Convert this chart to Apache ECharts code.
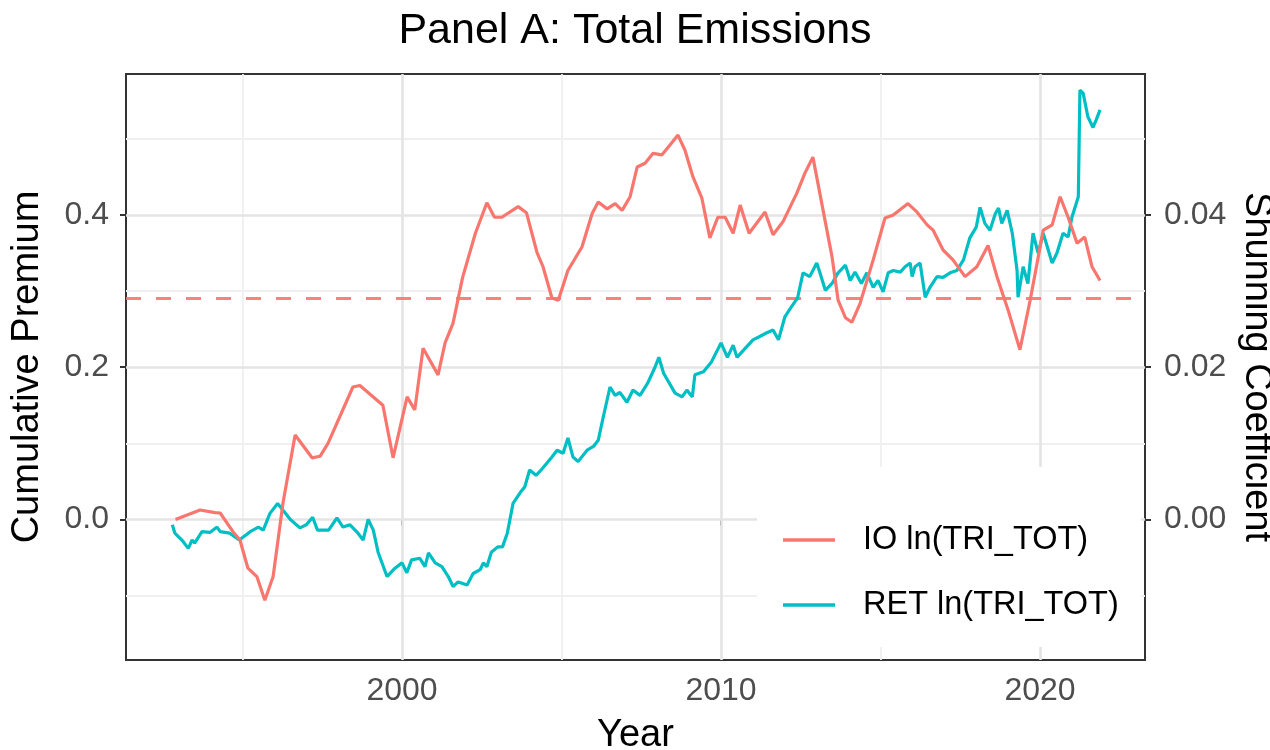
<!DOCTYPE html>
<html>
<head>
<meta charset="utf-8">
<script src="https://cdn.jsdelivr.net/npm/echarts@6/dist/echarts.min.js"></script>
<style>
  html, body { margin: 0; padding: 0; background: #ffffff; }
  #chart { width: 1270px; height: 750px; }
</style>
</head>
<body>
<div id="chart"></div>
<script>
// IO shunning coefficient (right axis), by year
const ioYear = [1992.9, 1993.67, 1994.14, 1994.3, 1994.7, 1994.92, 1995.17, 1995.45, 1995.7, 1995.96,
  1996.27, 1996.65, 1997.18, 1997.43, 1997.68, 1998.46, 1998.68, 1999.4, 1999.72, 2000.16,
  2000.4, 2000.66, 2001.13, 2001.35, 2001.6, 2001.9, 2002.3, 2002.66, 2002.9, 2003.13,
  2003.64, 2003.9, 2004.23, 2004.42, 2004.7, 2004.9, 2005.2, 2005.64, 2005.96, 2006.15,
  2006.43, 2006.68, 2006.9, 2007.15, 2007.37, 2007.62, 2007.87, 2008.15, 2008.4, 2008.65,
  2008.87, 2009.12, 2009.4, 2009.65, 2009.9, 2010.13, 2010.38, 2010.6, 2010.88, 2011.38,
  2011.63, 2011.94, 2012.38, 2012.63, 2012.88, 2013.2, 2013.48, 2013.67, 2013.9, 2014.1,
  2014.36, 2014.77, 2015.14, 2015.4, 2015.86, 2016.14, 2016.46, 2016.65, 2016.96, 2017.27,
  2017.65, 2018.02, 2018.37, 2018.65, 2019.0, 2019.37, 2019.69, 2020.1, 2020.38, 2020.63,
  2020.88, 2021.16, 2021.4, 2021.63, 2021.88];
const ioCoef = [0.0000, 0.00125, 0.0009, 0.00085, -0.0016, -0.0027, -0.0064, -0.0075, -0.0106, -0.0075,
  0.0022, 0.0111, 0.0081, 0.0083, 0.0100, 0.0174, 0.0176, 0.0150, 0.0081, 0.0161,
  0.0144, 0.0225, 0.0190, 0.0232, 0.0258, 0.0318, 0.0376, 0.0416, 0.0397, 0.0397,
  0.0411, 0.0403, 0.0351, 0.0332, 0.0291, 0.0288, 0.0327, 0.0358, 0.0402, 0.0417,
  0.0408, 0.0415, 0.0406, 0.0424, 0.0463, 0.0468, 0.0481, 0.0479, 0.0492, 0.0505,
  0.0485, 0.0450, 0.0422, 0.0370, 0.0397, 0.0397, 0.0376, 0.0413, 0.0376, 0.0404,
  0.0374, 0.0391, 0.0429, 0.0455, 0.0476, 0.0406, 0.0345, 0.0288, 0.0265, 0.0259,
  0.0284, 0.0341, 0.0396, 0.0400, 0.0415, 0.0404, 0.0387, 0.0380, 0.0354, 0.0341,
  0.0319, 0.0332, 0.0360, 0.0319, 0.0275, 0.0223, 0.0288, 0.0380, 0.0387, 0.0424,
  0.0397, 0.0363, 0.0371, 0.0332, 0.0314];
const ioMean = 0.029;

// RET cumulative premium (left axis), by year
const retYear = [1992.8, 1992.88, 1993.1, 1993.3, 1993.42, 1993.5, 1993.73, 1993.98, 1994.2, 1994.3,
  1994.6, 1994.9, 1995.24, 1995.5, 1995.65, 1995.86, 1996.1, 1996.27, 1996.5, 1996.8,
  1997.0, 1997.2, 1997.35, 1997.7, 1997.96, 1998.15, 1998.37, 1998.62, 1998.78, 1998.94,
  1999.1, 1999.25, 1999.53, 1999.78, 2000.0, 2000.15, 2000.3, 2000.56, 2000.72, 2000.83,
  2001.04, 2001.25, 2001.45, 2001.6, 2001.76, 2002.04, 2002.23, 2002.45, 2002.55, 2002.66,
  2002.8, 2003.0, 2003.15, 2003.3, 2003.48, 2003.7, 2003.85, 2004.0, 2004.2, 2004.36,
  2004.7, 2004.86, 2005.05, 2005.2, 2005.36, 2005.52, 2005.8, 2006.0, 2006.15, 2006.3,
  2006.52, 2006.68, 2006.83, 2007.05, 2007.24, 2007.46, 2007.7, 2007.93, 2008.05, 2008.2,
  2008.56, 2008.78, 2008.93, 2009.1, 2009.18, 2009.45, 2009.7, 2010.0, 2010.2, 2010.38,
  2010.5, 2011.0, 2011.2, 2011.42, 2011.63, 2011.8, 2012.0, 2012.2, 2012.4, 2012.57,
  2012.78, 2013.0, 2013.1, 2013.27, 2013.48, 2013.67, 2013.9, 2014.05, 2014.2, 2014.4,
  2014.57, 2014.77, 2014.92, 2015.08, 2015.24, 2015.4, 2015.62, 2015.77, 2015.93, 2015.99,
  2016.08, 2016.24, 2016.4, 2016.55, 2016.77, 2016.96, 2017.18, 2017.39, 2017.6, 2017.8,
  2018.0, 2018.12, 2018.27, 2018.43, 2018.6, 2018.7, 2018.8, 2018.97, 2019.13, 2019.28,
  2019.31, 2019.47, 2019.62, 2019.78, 2019.94, 2020.1, 2020.38, 2020.53, 2020.72, 2020.88,
  2021.0, 2021.2, 2021.25, 2021.35, 2021.5, 2021.66, 2021.76, 2021.88];
const retValue = [-0.007, -0.018, -0.027, -0.038, -0.027, -0.031, -0.016, -0.017, -0.010, -0.016,
  -0.018, -0.027, -0.016, -0.010, -0.014, 0.008, 0.021, 0.012, 0.000, -0.011,
  -0.007, 0.003, -0.014, -0.014, 0.002, -0.010, -0.007, -0.018, -0.027, 0.000,
  -0.014, -0.043, -0.075, -0.064, -0.057, -0.070, -0.053, -0.051, -0.062, -0.044,
  -0.057, -0.062, -0.075, -0.088, -0.082, -0.086, -0.071, -0.066, -0.057, -0.062,
  -0.043, -0.036, -0.036, -0.018, 0.021, 0.035, 0.043, 0.065, 0.058, 0.065,
  0.082, 0.091, 0.087, 0.107, 0.082, 0.076, 0.091, 0.096, 0.104, 0.133,
  0.174, 0.163, 0.167, 0.154, 0.170, 0.163, 0.179, 0.200, 0.213, 0.192,
  0.166, 0.161, 0.170, 0.161, 0.190, 0.194, 0.207, 0.232, 0.213, 0.229,
  0.213, 0.236, 0.240, 0.245, 0.249, 0.236, 0.266, 0.279, 0.291, 0.324,
  0.319, 0.337, 0.324, 0.301, 0.310, 0.324, 0.334, 0.314, 0.325, 0.310,
  0.324, 0.305, 0.314, 0.299, 0.324, 0.327, 0.325, 0.332, 0.337, 0.319,
  0.332, 0.337, 0.292, 0.305, 0.319, 0.318, 0.324, 0.327, 0.341, 0.370,
  0.384, 0.410, 0.389, 0.380, 0.402, 0.409, 0.389, 0.406, 0.376, 0.327,
  0.292, 0.332, 0.310, 0.376, 0.350, 0.376, 0.337, 0.350, 0.376, 0.371,
  0.397, 0.424, 0.564, 0.560, 0.529, 0.515, 0.525, 0.538];

// Tick positions and grid breaks
const yearTicks = [2000, 2010, 2020];
const yearMinor = [1995, 2005, 2015];
const premiumTicks = [0.0, 0.2, 0.4];
const premiumMinor = [-0.1, 0.1, 0.3, 0.5];
const coefTicks = [0.00, 0.02, 0.04];

const seriesNames = ['IO ln(TRI_TOT)', 'RET ln(TRI_TOT)'];
const colors = ['#F8766D', '#00BFC4'];

const FONT = "'Liberation Sans', Arial, sans-serif";

const ioData = ioYear.map((y, i) => [y, ioCoef[i]]);
const retData = retYear.map((y, i) => [y, retValue[i]]);

const majorStyle = { color: '#E4E4E4', width: 2.6, type: 'solid' };
const minorStyle = { color: '#F0F0F0', width: 1.8, type: 'solid' };
const gridLines = [
  ...yearMinor.map(v => ({ xAxis: v, lineStyle: minorStyle })),
  ...premiumMinor.map(v => ({ yAxis: v, lineStyle: minorStyle })),
  ...yearTicks.map(v => ({ xAxis: v, lineStyle: majorStyle })),
  ...premiumTicks.map(v => ({ yAxis: v, lineStyle: majorStyle }))
];

const tickStyle = { color: '#333333', width: 2 };
const labelStyle = { fontFamily: FONT, fontSize: 32, color: '#4D4D4D' };
const nameStyle = { fontFamily: FONT, fontSize: 38, color: '#000000' };

const chart = echarts.init(document.getElementById('chart'), null, { renderer: 'canvas' });
chart.setOption({
  animation: false,
  backgroundColor: '#ffffff',
  title: {
    text: 'Panel A: Total Emissions',
    left: 'center',
    top: 5,
    textStyle: { fontFamily: FONT, fontSize: 43, fontWeight: 'normal', color: '#000000' }
  },
  grid: {
    left: 126, right: 125, top: 74, bottom: 90,
    outerBoundsMode: 'none',
    containLabel: false,
    show: true, borderColor: '#333333', borderWidth: 2, backgroundColor: '#ffffff'
  },
  legend: {
    data: seriesNames.map((n, i) => ({ name: n, itemStyle: { color: colors[i] } })),
    orient: 'vertical',
    left: 757,
    top: 467,
    z: 10,
    icon: 'rect',
    itemWidth: 52,
    itemHeight: 3.5,
    itemGap: 25,
    padding: [53, 22, 22, 26],
    backgroundColor: '#ffffff',
    selectedMode: false,
    textStyle: { fontFamily: FONT, fontSize: 32.5, color: '#000000', lineHeight: 40, padding: [0, 0, 0, 23] }
  },
  xAxis: {
    type: 'value',
    min: 1991.348,
    max: 2023.29,
    splitLine: { show: false },
    axisLine: { show: false },
    axisTick: { show: true, customValues: yearTicks, length: 6, lineStyle: tickStyle },
    axisLabel: Object.assign({ customValues: yearTicks, margin: 15, formatter: v => String(Math.round(v)) }, labelStyle),
    name: 'Year',
    nameLocation: 'middle',
    nameGap: 57,
    nameMoveOverlap: false,
    nameTextStyle: nameStyle
  },
  yAxis: [
    {
      type: 'value',
      position: 'left',
      min: -0.1846,
      max: 0.5852,
      splitLine: { show: false },
      axisLine: { show: false },
      axisTick: { show: true, customValues: premiumTicks, length: 6, lineStyle: tickStyle },
      axisLabel: Object.assign({ customValues: premiumTicks, margin: 17, formatter: v => v.toFixed(1) }, labelStyle),
      name: 'Cumulative Premium',
      nameLocation: 'middle',
      nameGap: 79,
      nameMoveOverlap: false,
      nameTextStyle: nameStyle
    },
    {
      type: 'value',
      position: 'right',
      min: -0.01846,
      max: 0.05852,
      splitLine: { show: false },
      axisLine: { show: false },
      axisTick: { show: true, customValues: coefTicks, length: 6, lineStyle: tickStyle },
      axisLabel: Object.assign({ customValues: coefTicks, margin: 19, formatter: v => v.toFixed(2) }, labelStyle),
      name: 'Shunning Coefficient',
      nameLocation: 'middle',
      nameRotate: -90,
      nameGap: 92,
      nameMoveOverlap: false,
      nameTextStyle: nameStyle
    }
  ],
  series: [
    {
      // panel grid lines
      name: 'grid',
      type: 'line',
      data: [],
      z: 1,
      silent: true,
      markLine: {
        z: 1,
        silent: true,
        precision: 4,
        symbol: ['none', 'none'],
        label: { show: false },
        emphasis: { disabled: true },
        data: gridLines
      }
    },
    {
      name: seriesNames[1],
      type: 'line',
      yAxisIndex: 0,
      data: retData,
      showSymbol: false,
      symbol: 'none',
      z: 3,
      lineStyle: { color: colors[1], width: 3.2 },
      itemStyle: { color: colors[1] }
    },
    {
      name: seriesNames[0],
      type: 'line',
      yAxisIndex: 1,
      data: ioData,
      showSymbol: false,
      symbol: 'none',
      z: 4,
      lineStyle: { color: colors[0], width: 3.2 },
      itemStyle: { color: colors[0] },
      markLine: {
        z: 2,
        silent: true,
        precision: 5,
        symbol: ['none', 'none'],
        label: { show: false },
        emphasis: { disabled: true },
        lineStyle: { color: colors[0], width: 3, type: [15, 15], opacity: 0.9 },
        data: [{ yAxis: ioMean }]
      }
    }
  ]
});
</script>
</body>
</html>
